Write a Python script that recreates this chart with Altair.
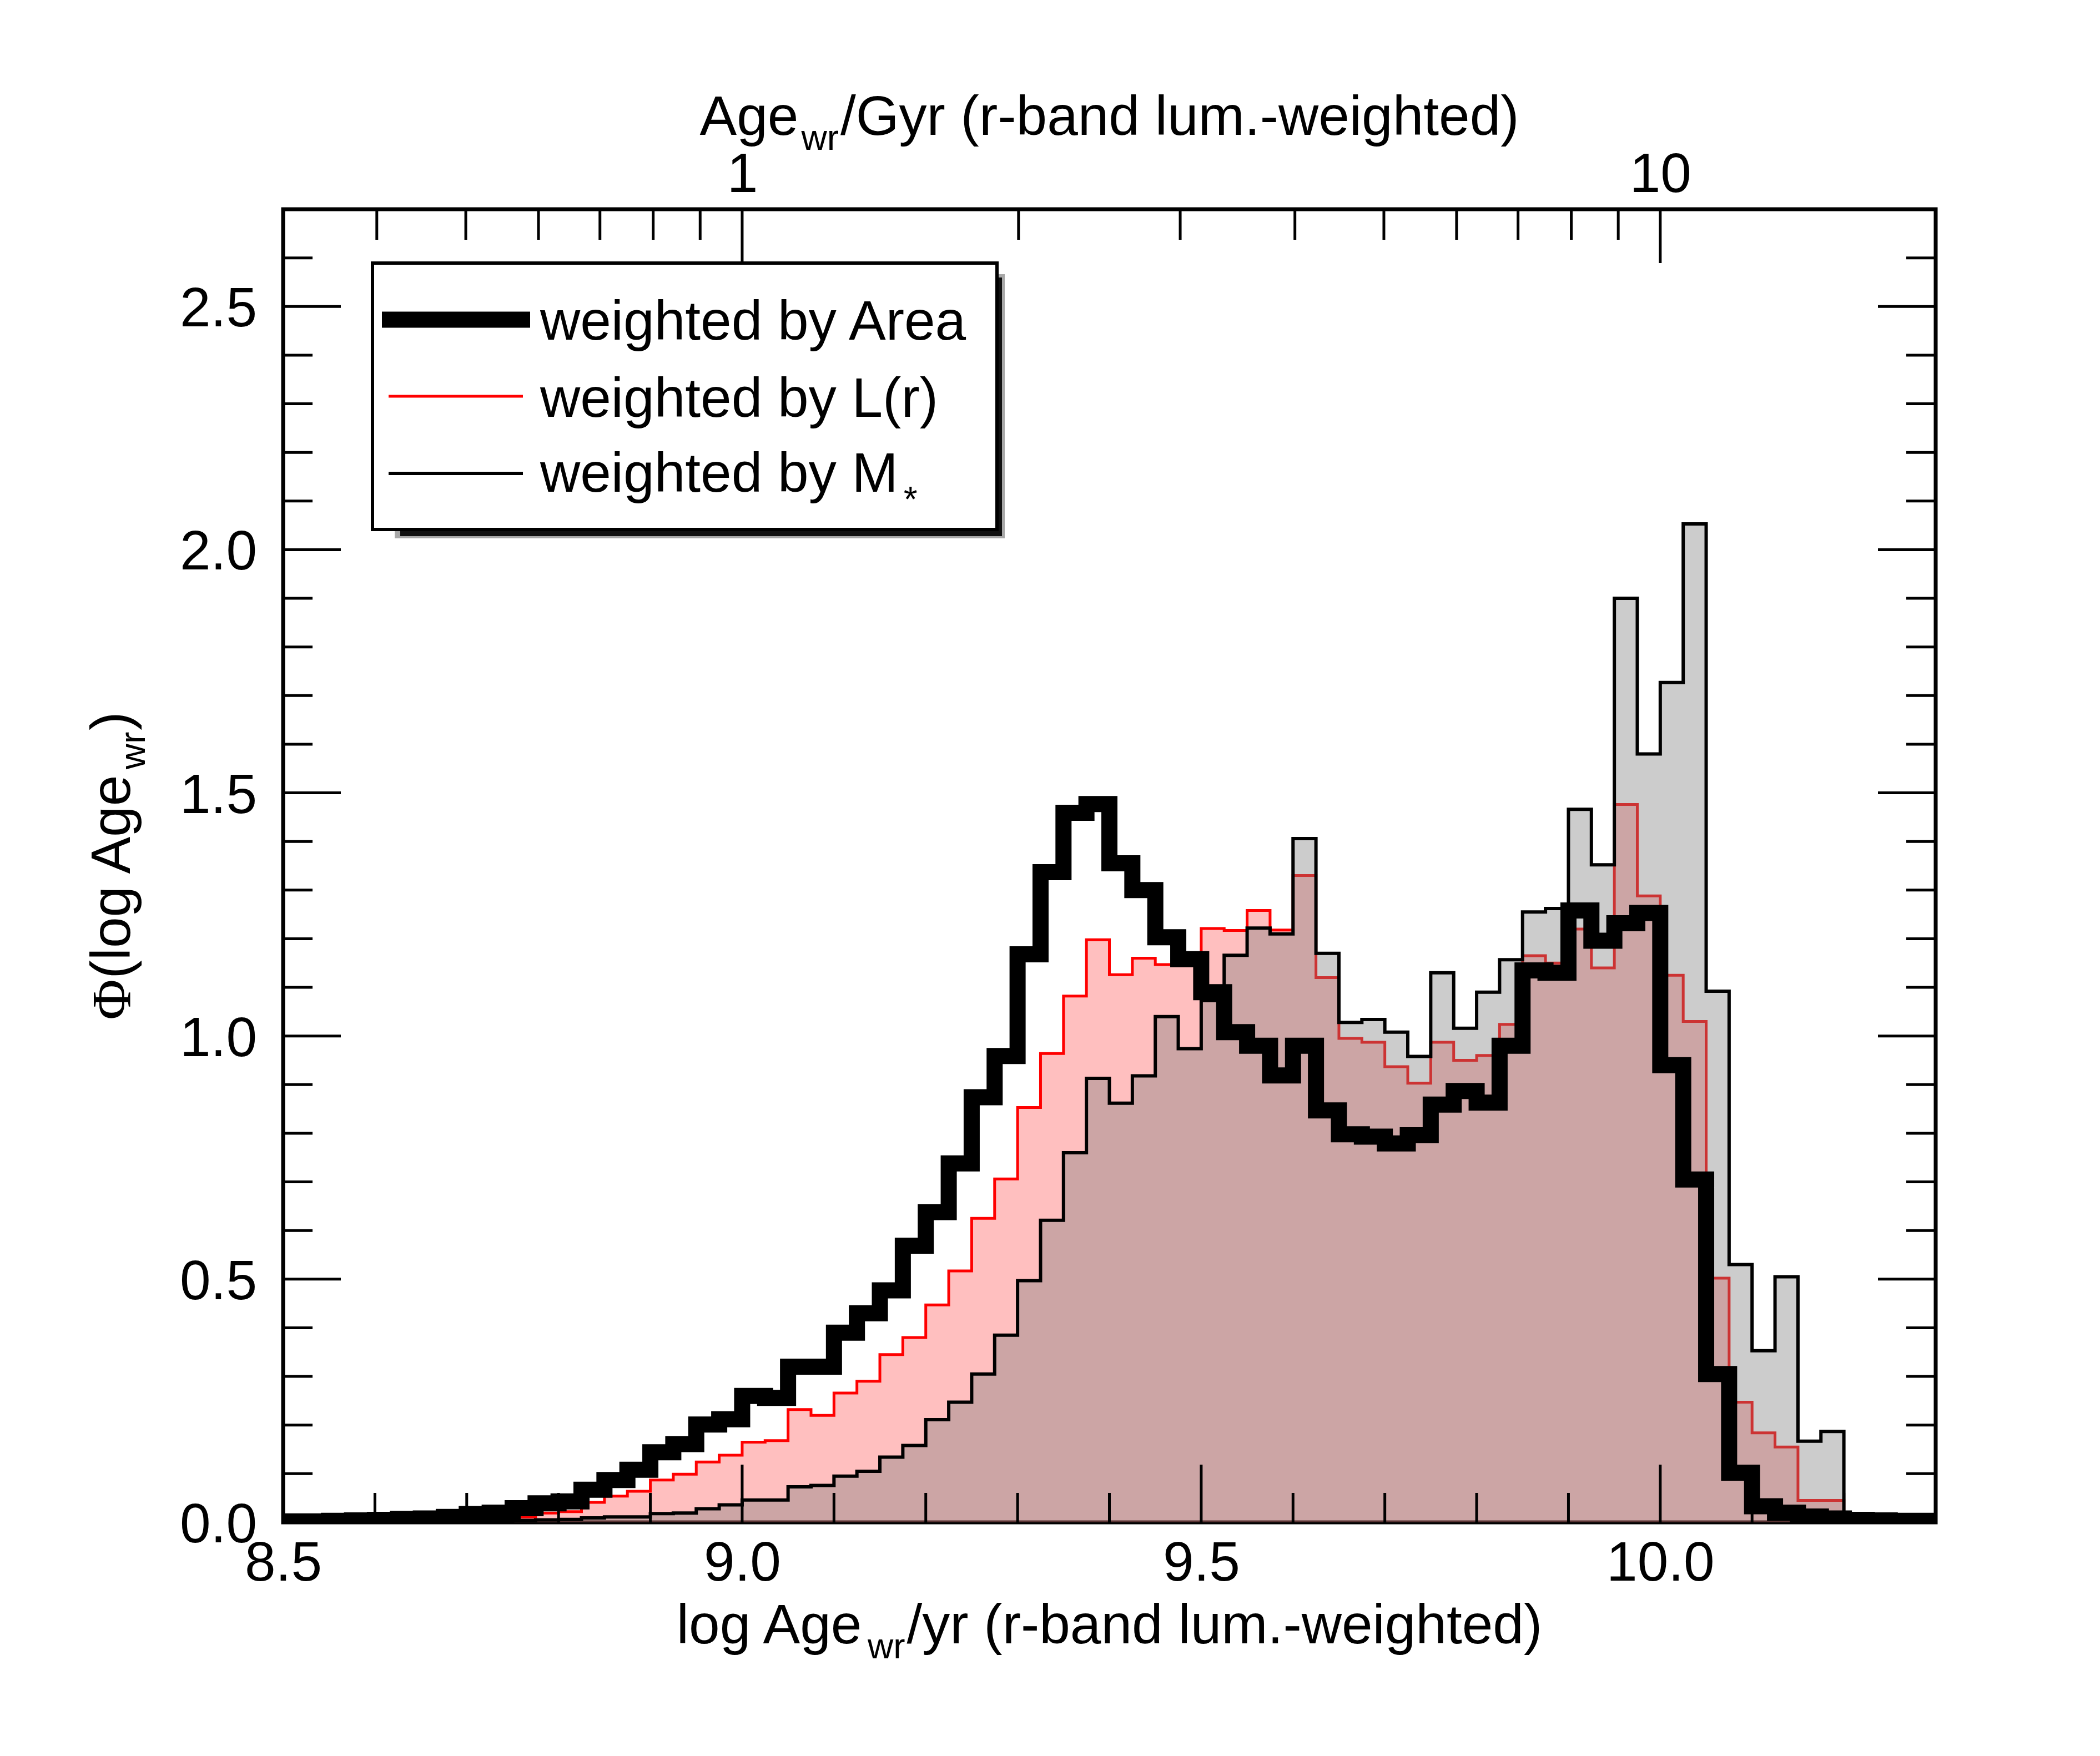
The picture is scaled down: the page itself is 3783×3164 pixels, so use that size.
import altair as alt
import pandas as pd
import math

# ---------------- data ----------------
BIN_START = 8.5
BIN_WIDTH = 0.025
N_BINS = 72

phi_area = [0.002, 0.002, 0.003, 0.004, 0.005, 0.007, 0.008, 0.011, 0.017, 0.020,
            0.029, 0.039, 0.043, 0.067, 0.087, 0.108, 0.144, 0.161, 0.201, 0.212,
            0.260, 0.256, 0.320, 0.320, 0.390, 0.430, 0.477, 0.569, 0.638, 0.738,
            0.874, 0.959, 1.168, 1.337, 1.459, 1.477, 1.355, 1.300, 1.203, 1.158,
            1.090, 1.008, 0.980, 0.919, 0.980, 0.847, 0.798, 0.793, 0.779, 0.796,
            0.859, 0.887, 0.863, 0.980, 1.135, 1.130, 1.258, 1.196, 1.232, 1.253,
            0.940, 0.705, 0.305, 0.102, 0.033, 0.020, 0.012, 0.008, 0.005, 0.004,
            0.003, 0.003]

phi_lr = [0.000, 0.000, 0.001, 0.001, 0.002, 0.002, 0.003, 0.004, 0.005, 0.007,
          0.011, 0.019, 0.022, 0.041, 0.054, 0.064, 0.087, 0.099, 0.124, 0.138,
          0.165, 0.168, 0.232, 0.220, 0.266, 0.290, 0.345, 0.380, 0.447, 0.517,
          0.625, 0.706, 0.853, 0.964, 1.082, 1.198, 1.126, 1.160, 1.147, 1.150,
          1.221, 1.217, 1.258, 1.218, 1.330, 1.120, 0.995, 0.987, 0.937, 0.903,
          0.987, 0.950, 0.960, 1.024, 1.165, 1.150, 1.220, 1.140, 1.476, 1.288,
          1.125, 1.030, 0.502, 0.247, 0.184, 0.155, 0.045, 0.045, 0.000, 0.000,
          0.000, 0.000]

phi_mstar = [0.000, 0.000, 0.000, 0.001, 0.001, 0.001, 0.002, 0.002, 0.003, 0.003,
             0.004, 0.005, 0.006, 0.009, 0.011, 0.011, 0.018, 0.019, 0.028, 0.036,
             0.046, 0.046, 0.073, 0.076, 0.095, 0.105, 0.134, 0.158, 0.211, 0.247,
             0.305, 0.385, 0.497, 0.621, 0.760, 0.913, 0.862, 0.918, 1.040, 0.974,
             1.073, 1.166, 1.222, 1.210, 1.406, 1.170, 1.028, 1.034, 1.008, 0.958,
             1.130, 1.016, 1.090, 1.157, 1.255, 1.262, 1.466, 1.352, 1.900, 1.580,
             1.727, 2.053, 1.092, 0.530, 0.353, 0.505, 0.167, 0.187, 0.015, 0.008,
             0.005, 0.004]

x_label_values = [8.5, 9.0, 9.5, 10.0]
x_major_ticks = [9.0, 9.5, 10.0]
x_minor_ticks = [8.6, 8.7, 8.8, 8.9, 9.1, 9.2, 9.3, 9.4, 9.6, 9.7, 9.8, 9.9, 10.1, 10.2]
y_label_values = [0.0, 0.5, 1.0, 1.5, 2.0, 2.5]
y_label_text = ["0.0", "0.5", "1.0", "1.5", "2.0", "2.5"]
y_major_ticks = [0.5, 1.0, 1.5, 2.0, 2.5]
y_minor_ticks = [0.1, 0.2, 0.3, 0.4, 0.6, 0.7, 0.8, 0.9, 1.1, 1.2, 1.3, 1.4,
                 1.6, 1.7, 1.8, 1.9, 2.1, 2.2, 2.3, 2.4, 2.6]
top_major_gyr = [1, 10]
top_minor_gyr = [0.4, 0.5, 0.6, 0.7, 0.8, 0.9, 2, 3, 4, 5, 6, 7, 8, 9]

legend_labels = ["weighted by Area", "weighted by L(r)", "weighted by M"]

# ---------------- layout ----------------
W, H = 2977, 2366
FONT = "Liberation Sans"
FS = 100
SUB_FS = 64
SUB_DROP = 27
MAJ, MIN = 104, 53
TICK_W = 5

edges = [round(BIN_START + i * BIN_WIDTH, 4) for i in range(N_BINS + 1)]


def step_df(vals):
    return pd.DataFrame({"x": edges, "y": list(vals) + [vals[-1]]})


xscale = alt.Scale(domain=[8.5, 10.3], nice=False, zero=False)
yscale = alt.Scale(domain=[0, 2.7], nice=False, zero=False)

bottom_axis = alt.Axis(orient="bottom", values=x_label_values, format=".1f",
                       ticks=False, tickSize=0, domain=False, grid=False,
                       labelPadding=25, labelFontSize=FS, labelFont=FONT,
                       labelColor="black", labelFlush=False, labelOverlap=False,
                       labelLimit=1000, title=None)
top_axis = alt.Axis(orient="top", values=[9 + math.log10(g) for g in top_major_gyr],
                    labelExpr="datum.value < 9.5 ? '1' : '10'",
                    ticks=False, tickSize=0, domain=False, grid=False,
                    labelPadding=11, labelFontSize=FS, labelFont=FONT,
                    labelColor="black", labelFlush=False, labelOverlap=False,
                    labelLimit=1000, title=None)

red_area = alt.Chart(step_df(phi_lr)).mark_area(
    interpolate="step-after", color="#ff0000", opacity=0.25, clip=True
).encode(x=alt.X("x:Q", scale=xscale, axis=bottom_axis),
         y=alt.Y("y:Q", scale=yscale, axis=None, stack=None))

red_line = alt.Chart(step_df(phi_lr)).mark_line(
    interpolate="step-after", color="#ff0000", strokeWidth=5, clip=True
).encode(x=alt.X("x:Q", scale=xscale, axis=None),
         y=alt.Y("y:Q", scale=yscale, axis=None))

gray_area = alt.Chart(step_df(phi_mstar)).mark_area(
    interpolate="step-after", color="#7f7f7f", opacity=0.4, clip=True
).encode(x=alt.X("x:Q", scale=xscale, axis=top_axis),
         y=alt.Y("y:Q", scale=yscale, axis=None, stack=None))

mstar_line = alt.Chart(step_df(phi_mstar)).mark_line(
    interpolate="step-after", color="black", strokeWidth=6, clip=True
).encode(x=alt.X("x:Q", scale=xscale, axis=None),
         y=alt.Y("y:Q", scale=yscale, axis=None))

area_line = alt.Chart(step_df(phi_area)).mark_line(
    interpolate="step-after", color="black", strokeWidth=29, clip=True,
    strokeJoin="miter"
).encode(x=alt.X("x:Q", scale=xscale, axis=None),
         y=alt.Y("y:Q", scale=yscale, axis=None))

# y tick labels drawn through the y scale
y_labels = alt.Chart(pd.DataFrame({"v": y_label_values, "lab": y_label_text})).mark_text(
    font=FONT, fontSize=FS, align="right", baseline="alphabetic", dy=36, color="black"
).encode(y=alt.Y("v:Q", scale=yscale, axis=None), x=alt.value(-47), text="lab:N")


def xticks(vals, y0, y1):
    return alt.Chart(pd.DataFrame({"v": vals})).mark_rule(
        color="black", strokeWidth=TICK_W
    ).encode(x=alt.X("v:Q", scale=xscale, axis=None),
             y=alt.value(y0), y2=alt.value(y1))


def yticks(vals, x0, x1):
    return alt.Chart(pd.DataFrame({"v": vals})).mark_rule(
        color="black", strokeWidth=TICK_W
    ).encode(y=alt.Y("v:Q", scale=yscale, axis=None),
             x=alt.value(x0), x2=alt.value(x1))


top_major_pos = [9 + math.log10(g) for g in top_major_gyr]
top_minor_pos = [9 + math.log10(g) for g in top_minor_gyr]

ticks = [
    xticks(x_major_ticks, H, H - MAJ),
    xticks(x_minor_ticks, H, H - MIN),
    xticks(top_major_pos, 0, 97),
    xticks(top_minor_pos, 0, 55),
    yticks(y_major_ticks, 0, MAJ),
    yticks(y_minor_ticks, 0, MIN),
    yticks(y_major_ticks, W, W - MAJ),
    yticks(y_minor_ticks, W, W - MIN),
]

# ---------------- text helpers ----------------
AW = {' ': 278, '(': 333, ')': 333, '*': 389, '-': 333, '.': 278, '/': 278,
      'A': 667, 'G': 778, 'M': 833, 'L': 556, 'a': 556, 'b': 556, 'd': 556,
      'e': 556, 'g': 556, 'h': 556, 'i': 222, 'l': 222, 'm': 833, 'n': 556,
      'o': 556, 'r': 333, 't': 278, 'u': 556, 'w': 722, 'y': 500}


def tw(s, size):
    return sum(AW.get(c, 556) for c in s) / 1000.0 * size


dummy = pd.DataFrame({"d": [0]})
GAP1, GAP2 = 5, 3


def txt(s, x, y, size=FS, font=FONT, angle=0):
    return alt.Chart(dummy).mark_text(
        font=font, fontSize=size, align="left", baseline="alphabetic",
        angle=angle, color="black"
    ).encode(x=alt.value(x), y=alt.value(y), text=alt.value(s))


def sub_title(main1, sub, main2, y_base):
    total = tw(main1, FS) + GAP1 + tw(sub, SUB_FS) + GAP2 + tw(main2, FS)
    x0 = W / 2 - total / 2
    x1 = x0 + tw(main1, FS) + GAP1
    x2 = x1 + tw(sub, SUB_FS) + GAP2
    return [txt(main1, x0, y_base), txt(sub, x1, y_base + SUB_DROP, SUB_FS),
            txt(main2, x2, y_base)]


titles = []
titles += sub_title("log Age", "wr", "/yr (r-band lum.-weighted)", 2584)
titles += sub_title("Age", "wr", "/Gyr (r-band lum.-weighted)", -134)

# y title (rotated, reading bottom to top)
PHI_W = 74
yt_total = PHI_W + tw("(log Age", FS) + GAP1 + tw("wr", SUB_FS) + GAP2 + tw(")", FS)
ybx = -276
ys = H / 2 + yt_total / 2
titles.append(txt("\u03a6", ybx, ys, FS, "Liberation Serif", 270))
ys -= PHI_W
titles.append(txt("(log Age", ybx, ys, FS, FONT, 270))
ys -= tw("(log Age", FS) + GAP1
titles.append(txt("wr", ybx + SUB_DROP, ys, SUB_FS, FONT, 270))
ys -= tw("wr", SUB_FS) + GAP2
titles.append(txt(")", ybx, ys, FS, FONT, 270))

# ---------------- legend ----------------
LX0, LX1, LY0, LY1 = 161, 1286, 97, 577


def rect(x0, x1, y0, y1, **kw):
    return alt.Chart(dummy).mark_rect(**kw).encode(
        x=alt.value(x0), x2=alt.value(x1), y=alt.value(y0), y2=alt.value(y1))


def hline(x0, x1, y, color, width):
    return alt.Chart(dummy).mark_rule(color=color, strokeWidth=width, strokeCap="butt").encode(
        x=alt.value(x0), x2=alt.value(x1), y=alt.value(y))


legend = [
    rect(LX0 + 40, LX1 + 14, LY0 + 20, LY1 + 16, fill="#a8a8a8"),
    rect(LX0 + 50, LX1 + 9, LY0 + 26, LY1 + 12, fill="#111111"),
    rect(LX0, LX1, LY0, LY1, fill="white", stroke="black", strokeWidth=6),
    hline(178, 445, 199, "black", 29),
    hline(190, 432, 337, "#ff0000", 5),
    hline(190, 432, 476, "black", 6),
    txt(legend_labels[0], 463, 235),
    txt(legend_labels[1], 463, 374),
    txt(legend_labels[2], 463, 509),
    txt("*", 463 + tw(legend_labels[2], FS) + 10, 509 + 36, SUB_FS),
]

chart = alt.layer(
    red_area, red_line, gray_area, mstar_line, area_line, y_labels,
    *ticks, *legend, *titles
).properties(
    width=W, height=H,
    autosize=alt.AutoSizeParams(type="none"),
    padding={"left": 502, "top": 369, "right": 280, "bottom": 400},
    background="white",
).configure_view(stroke="black", strokeWidth=7)

chart.save("out.html", embed_options={"renderer": "svg", "actions": False})
